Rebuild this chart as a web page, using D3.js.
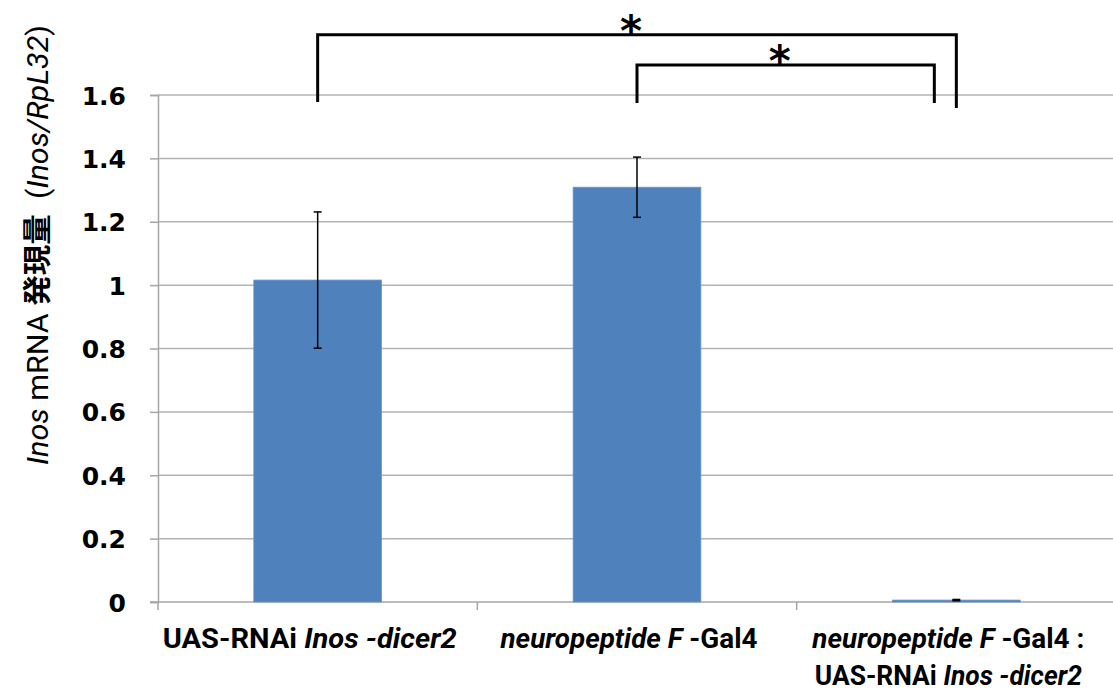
<!DOCTYPE html>
<html>
<head>
<meta charset="utf-8">
<script src="https://cdn.jsdelivr.net/npm/d3@7"></script>
<style>
  body { margin: 0; background: #fff; }
  svg { display: block; }
</style>
</head>
<body>
<div id="chart"></div>
<script>
// data
const categories = ["ctrlRNAi", "npfGal4", "npfKD"];
const values = [1.016, 1.309, 0.006];
const errors = [0.215, 0.095, 0.002];
const yTicks = [0, 0.2, 0.4, 0.6, 0.8, 1, 1.2, 1.4, 1.6];
const tickLabels = ["0", "0.2", "0.4", "0.6", "0.8", "1", "1.2", "1.4", "1.6"];
// x labels, as lines of [text, italic] pieces
const xLabels = [
  [[["UAS-RNAi ", false], ["Inos -dicer2", true]]],
  [[["neuropeptide F ", true], ["-Gal4", false]]],
  [[["neuropeptide F ", true], ["-Gal4 :", false]],
   [["UAS-RNAi ", false], ["Inos -dicer2", true]]]
];
// significance brackets: from, to, level, label
const sigFrom = [0, 1];
const sigTo = [2, 2];
const sigLevel = [1.79, 1.695];
const sigLabel = ["*", "*"];

(function() {
  const width = 1113, height = 693;
  const left = 158, right = 1116, top = 95, bottom = 602;
  const labelWidths = [[294], [257], [272, 267]];

  const svg = d3.select("#chart").append("svg")
    .attr("width", width).attr("height", height);

  const x = d3.scaleBand().domain(categories).range([left, right])
    .paddingInner(0.6).paddingOuter(0.3);
  const y = d3.scaleLinear().domain([0, 1.6]).range([bottom, top]);

  // gridlines
  svg.append("g").selectAll("line")
    .data(yTicks.filter(d => d > 0))
    .join("line")
    .attr("x1", left).attr("x2", width)
    .attr("y1", d => y(d)).attr("y2", d => y(d))
    .attr("stroke", "#b3b3b3").attr("stroke-width", 1.5);

  // y axis
  const yAxis = svg.append("g")
    .attr("transform", `translate(${left},0)`)
    .call(d3.axisLeft(y).tickValues(yTicks).tickSize(8).tickPadding(24)
      .tickFormat((d, i) => tickLabels[i]));
  yAxis.select(".domain").attr("stroke", "#a6a6a6").attr("stroke-width", 1.5);
  yAxis.selectAll(".tick line").attr("stroke", "#a6a6a6").attr("stroke-width", 1.5);
  yAxis.selectAll(".tick text")
    .attr("font-family", "DejaVu Sans, sans-serif")
    .attr("font-weight", "bold").attr("font-size", 25).attr("fill", "#000")
    .attr("dy", "0.36em");

  // x axis
  const step = x.step();
  const xAxis = svg.append("g").attr("transform", `translate(0,${bottom})`);
  xAxis.append("line").attr("x1", left - 8).attr("x2", width)
    .attr("stroke", "#a6a6a6").attr("stroke-width", 1.5);
  xAxis.selectAll(".xt")
    .data(d3.range(categories.length + 1))
    .join("line")
    .attr("x1", i => left + i * step).attr("x2", i => left + i * step)
    .attr("y1", 0).attr("y2", 8)
    .attr("stroke", "#a6a6a6").attr("stroke-width", 1.5);

  // bars
  svg.append("g").selectAll("rect")
    .data(categories)
    .join("rect")
    .attr("x", d => x(d))
    .attr("width", x.bandwidth())
    .attr("y", (d, i) => y(values[i]))
    .attr("height", (d, i) => Math.max(1.5, y(0) - y(values[i])))
    .attr("fill", "#4f81bd")
    .attr("stroke", "#6d95c8").attr("stroke-width", 0.8);

  // error bars
  const eb = svg.append("g").attr("stroke", "#000").attr("stroke-width", 1.5);
  categories.forEach((c, i) => {
    const cx = x(c) + x.bandwidth() / 2;
    const hi = y(values[i] + errors[i]), lo = y(values[i] - errors[i]);
    eb.append("line").attr("x1", cx).attr("x2", cx).attr("y1", hi).attr("y2", lo);
    eb.append("line").attr("x1", cx - 4).attr("x2", cx + 4).attr("y1", hi).attr("y2", hi);
    eb.append("line").attr("x1", cx - 4).attr("x2", cx + 4).attr("y1", lo).attr("y2", lo);
  });

  // x labels
  const lab = svg.append("g")
    .attr("font-family", "Liberation Sans Narrow, Roboto, sans-serif")
    .attr("font-weight", "bold").attr("font-size", 27).attr("fill", "#000");
  xLabels.forEach((lines, i) => {
    const cx = x(categories[i]) + x.bandwidth() / 2 - 8;
    lines.forEach((parts, j) => {
      const t = lab.append("text")
        .attr("x", cx).attr("y", 648 + j * 37)
        .attr("text-anchor", "middle")
        .attr("textLength", labelWidths[i][j])
        .attr("lengthAdjust", "spacingAndGlyphs");
      parts.forEach(p => {
        t.append("tspan").attr("font-style", p[1] ? "italic" : "normal").text(p[0]);
      });
    });
  });

  // y title
  const yt = svg.append("text")
    .attr("transform", "translate(48,245) rotate(-90)")
    .attr("text-anchor", "middle")
    .attr("textLength", 440)
    .attr("lengthAdjust", "spacingAndGlyphs")
    .attr("font-family", "Liberation Sans Narrow, Roboto, Noto Sans CJK JP, sans-serif")
    .attr("font-size", 29).attr("fill", "#000");
  yt.append("tspan").attr("font-style", "italic").text("Inos");
  yt.append("tspan").text(" mRNA ");
  yt.append("tspan").attr("font-family", "Noto Sans CJK JP").attr("font-weight", "bold").text("発現量");
  yt.append("tspan").text("\u00a0\u00a0(");
  yt.append("tspan").attr("font-style", "italic").text("Inos/RpL32");
  yt.append("tspan").text(")");

  // significance brackets
  const br = svg.append("g");
  sigFrom.forEach((a, k) => {
    const ax = x(categories[a]) + x.bandwidth() / 2;
    const bx = x(categories[sigTo[k]]) + x.bandwidth() / 2 - (k === 1 ? 22 : 0);
    const ly = y(sigLevel[k]);
    const legA = k === 0 ? 102 : 103, legB = k === 0 ? 108 : 103;
    br.append("path")
      .attr("d", `M${ax},${legA}V${ly}H${bx}V${legB}`)
      .attr("fill", "none").attr("stroke", "#000").attr("stroke-width", 3);
    br.append("text")
      .attr("x", (ax + bx) / 2 - 6)
      .attr("y", ly + 11)
      .attr("text-anchor", "middle")
      .attr("font-family", "DejaVu Sans, sans-serif")
      .attr("font-weight", "bold")
      .attr("font-size", 42).attr("fill", "#000")
      .text(sigLabel[k]);
  });
})();
</script>
</body>
</html>
